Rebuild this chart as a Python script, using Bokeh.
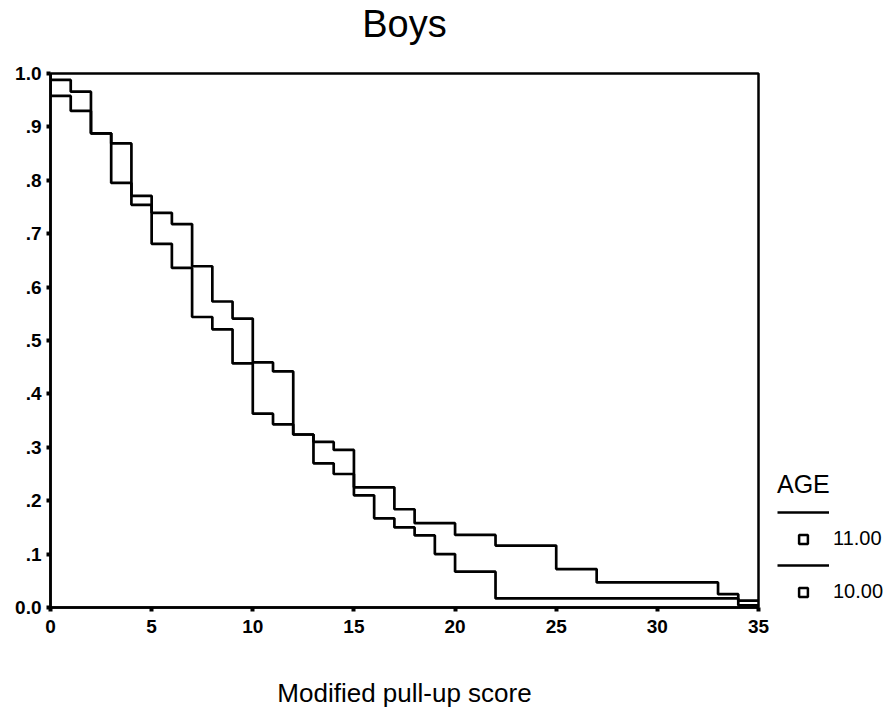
from bokeh.plotting import figure
from bokeh.models import Range1d, FixedTicker, Legend, LegendItem, Title
from bokeh.embed import file_html
from bokeh.resources import INLINE

# ---- data ----
x_ticks = [0, 5, 10, 15, 20, 25, 30, 35]
y_ticks = [0.0, 0.1, 0.2, 0.3, 0.4, 0.5, 0.6, 0.7, 0.8, 0.9, 1.0]
y_tick_labels = ["0.0", ".1", ".2", ".3", ".4", ".5", ".6", ".7", ".8", ".9", "1.0"]

age_labels = ["11.00", "10.00"]

score_11 = [0, 0, 1, 2, 3, 4, 5, 6, 7, 8, 9, 10, 11, 12, 13, 14, 15, 17, 18, 20, 22, 25, 27, 33, 34, 35]
surv_11 = [1.0, 0.988, 0.966, 0.888, 0.869, 0.771, 0.739, 0.718, 0.639, 0.573, 0.541, 0.459, 0.442,
           0.324, 0.310, 0.295, 0.225, 0.184, 0.158, 0.136, 0.116, 0.072, 0.047, 0.025, 0.013, 0.013]

score_10 = [0, 0, 1, 2, 3, 4, 5, 6, 7, 8, 9, 10, 11, 12, 13, 14, 15, 16, 17, 18, 19, 20, 22, 34, 35]
surv_10 = [1.0, 0.958, 0.930, 0.888, 0.795, 0.754, 0.681, 0.636, 0.544, 0.521, 0.457, 0.363, 0.343,
           0.324, 0.270, 0.250, 0.210, 0.167, 0.150, 0.135, 0.100, 0.067, 0.017, 0.004, 0.004]

FONT = "Liberation Sans"
NAN = float("nan")

p = figure(frame_width=708, frame_height=534, output_backend="svg", toolbar_location=None,
           x_range=Range1d(0, 35), y_range=Range1d(0, 1.0),
           min_border_left=50, min_border_right=133, min_border_top=72, min_border_bottom=109)

p.background_fill_color = "white"
p.border_fill_color = "white"
p.xgrid.visible = False
p.ygrid.visible = False
p.outline_line_color = "black"
p.outline_line_width = 2.5

# blank spacer panel between the title and the frame (pushes the title up)
spacer = Title(text=" ", text_font=FONT, text_font_size="24px", standoff=0)
p.add_layout(spacer, "above")

# title
p.title.text = "Boys"
p.title.align = "center"
p.title.text_font = FONT
p.title.text_font_size = "38px"
p.title.text_font_style = "normal"
p.title.text_color = "black"
p.title.standoff = 0

# axes
for ax in (p.xaxis[0], p.yaxis[0]):
    ax.axis_line_width = 2.5
    ax.axis_line_color = "black"
    ax.major_tick_line_width = 4
    ax.major_tick_line_color = "black"
    ax.major_tick_out = 4
    ax.major_tick_in = 0
    ax.minor_tick_line_color = None
    ax.major_label_text_font = FONT
    ax.major_label_text_font_style = "bold"
    ax.major_label_text_color = "black"

p.xaxis.ticker = FixedTicker(ticks=x_ticks)
p.xaxis.major_label_text_font_size = "19px"
p.xaxis.major_label_standoff = 8
p.xaxis.axis_label = "Modified pull-up score"
p.xaxis.axis_label_text_font = FONT
p.xaxis.axis_label_text_font_size = "26px"
p.xaxis.axis_label_text_font_style = "normal"
p.xaxis.axis_label_text_color = "black"
p.xaxis.axis_label_standoff = 42

p.yaxis.ticker = FixedTicker(ticks=y_ticks)
p.yaxis.major_label_overrides = {t: s for t, s in zip(y_ticks, y_tick_labels)}
p.yaxis.major_label_text_font_size = "19px"
p.yaxis.major_label_standoff = 5

# curves
r11 = p.step(score_11, surv_11, mode="after", line_color="black", line_width=2.7)
r10 = p.step(score_10, surv_10, mode="after", line_color="black", line_width=2.7)

# legend marker renderers (not drawn on the chart, legend only)
sq11 = p.scatter(x=[NAN], y=[NAN], marker="square", size=8, fill_color="white",
                 line_color="black", line_width=2.5)
sq10 = p.scatter(x=[NAN], y=[NAN], marker="square", size=8, fill_color="white",
                 line_color="black", line_width=2.5)

legend = Legend(items=[
    LegendItem(label="", renderers=[r11]),
    LegendItem(label=age_labels[0], renderers=[sq11]),
    LegendItem(label="", renderers=[r10]),
    LegendItem(label=age_labels[1], renderers=[sq10]),
])
legend.title = "AGE"
legend.title_text_font = FONT
legend.title_text_font_size = "25px"
legend.title_text_font_style = "normal"
legend.title_text_color = "black"
legend.title_standoff = 2
legend.label_text_font = FONT
legend.label_text_font_size = "20px"
legend.label_text_color = "black"
legend.glyph_width = 52
legend.glyph_height = 22
legend.spacing = 4
legend.label_standoff = 4
legend.padding = 0
legend.margin = 0
legend.border_line_color = None
legend.background_fill_alpha = 0
legend.location = (19, 4)
p.add_layout(legend, "right")

open("out.html", "w").write(file_html(p, INLINE))
